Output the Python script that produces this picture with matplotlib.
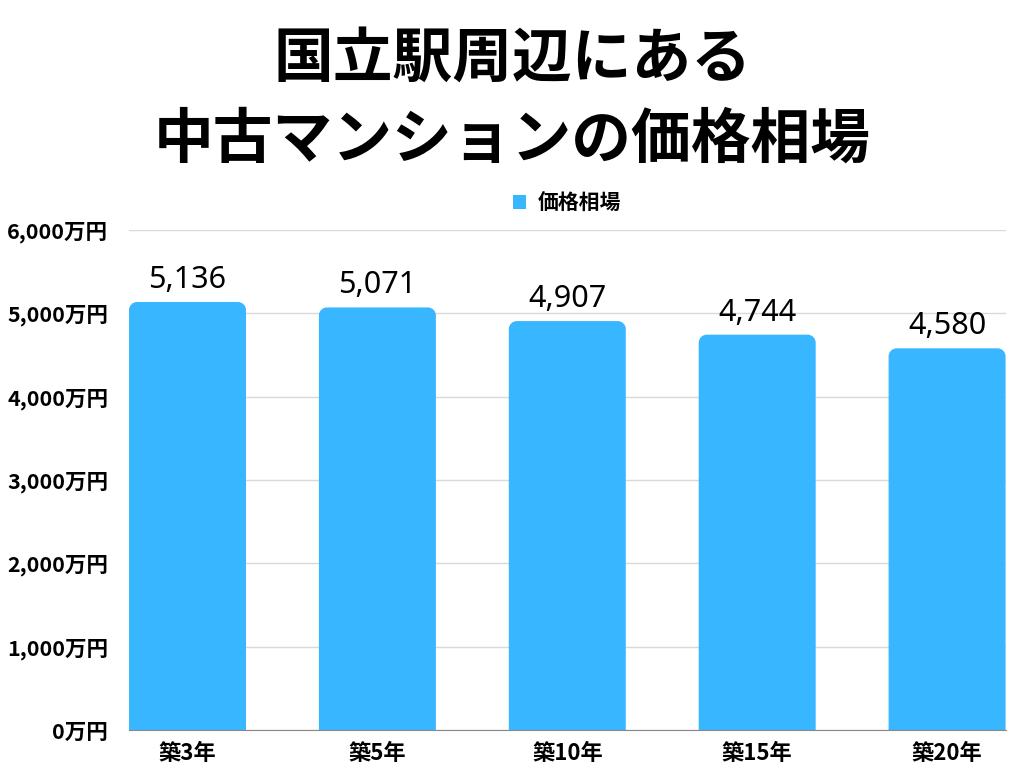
import numpy as np
import matplotlib.pyplot as plt
from matplotlib.path import Path
from matplotlib.patches import PathPatch

plt.rcParams['font.family'] = ['Noto Sans CJK JP', 'DejaVu Sans']

title = '国立駅周辺にある\n中古マンションの価格相場'
categories = ['築3年', '築5年', '築10年', '築15年', '築20年']
values = [5136, 5071, 4907, 4744, 4580]
yticks = [0, 1000, 2000, 3000, 4000, 5000, 6000]
series_name = '価格相場'
bar_color = '#38b6ff'

fig = plt.figure(figsize=(10.24, 7.68), dpi=100)
ax = fig.add_axes([0.126, 0.0495, 0.856, 0.651])

x = np.arange(len(categories))
width = 0.616
ax.set_xlim(-width / 2, len(categories) - 1 + width / 2)
ax.set_ylim(0, 6000)

# rounded top corners (radius in pixels converted to data units)
ax_w_px = 0.856 * 1024
ax_h_px = 0.651 * 768
rx = 8 * (len(categories) - 1 + width) / ax_w_px
ry = 8 * 6000 / ax_h_px
k = 0.5523
for xi, v in zip(x, values):
    l, r = xi - width / 2, xi + width / 2
    verts = [(l, 0), (l, v - ry), (l, v - ry + k * ry), (l + rx - k * rx, v), (l + rx, v),
             (r - rx, v), (r - rx + k * rx, v), (r, v - ry + k * ry), (r, v - ry),
             (r, 0), (l, 0)]
    codes = [Path.MOVETO, Path.LINETO, Path.CURVE4, Path.CURVE4, Path.CURVE4,
             Path.LINETO, Path.CURVE4, Path.CURVE4, Path.CURVE4,
             Path.LINETO, Path.CLOSEPOLY]
    ax.add_patch(PathPatch(Path(verts, codes), facecolor=bar_color, edgecolor='none', zorder=3))
    ax.annotate(f'{v:,}', (xi, v), xytext=(0, 5), textcoords='offset points',
                ha='center', va='bottom', fontsize=22, family=['Noto Sans', 'DejaVu Sans'])

ax.set_yticks(yticks)
ax.set_yticklabels([f'{t:,}万円' for t in yticks], fontsize=15.5, fontweight='bold')
ax.set_xticks(x)
ax.set_xticklabels(categories, fontsize=16, fontweight='bold')
ax.tick_params(axis='both', length=0)
ax.tick_params(axis='y', pad=15)
ax.tick_params(axis='x', pad=9)
ax.grid(axis='y', color='#d9d9d9', linewidth=1, zorder=0)
for s in ['top', 'right', 'left']:
    ax.spines[s].set_visible(False)
ax.spines['bottom'].set_color('#888888')
ax.spines['bottom'].set_zorder(4)

ax.bar([0], [0], color=bar_color, label=series_name)
ax.legend(loc='lower center', bbox_to_anchor=(0.5, 1.0), frameon=False,
          prop={'size': 15, 'weight': 'bold'}, handlelength=0.6, handleheight=0.6,
          handletextpad=0.6, borderaxespad=0.4)

fig.suptitle(title, x=0.5, y=0.962, fontsize=43, fontweight='bold', linespacing=1.45, va='top')

fig.savefig('out.png')
